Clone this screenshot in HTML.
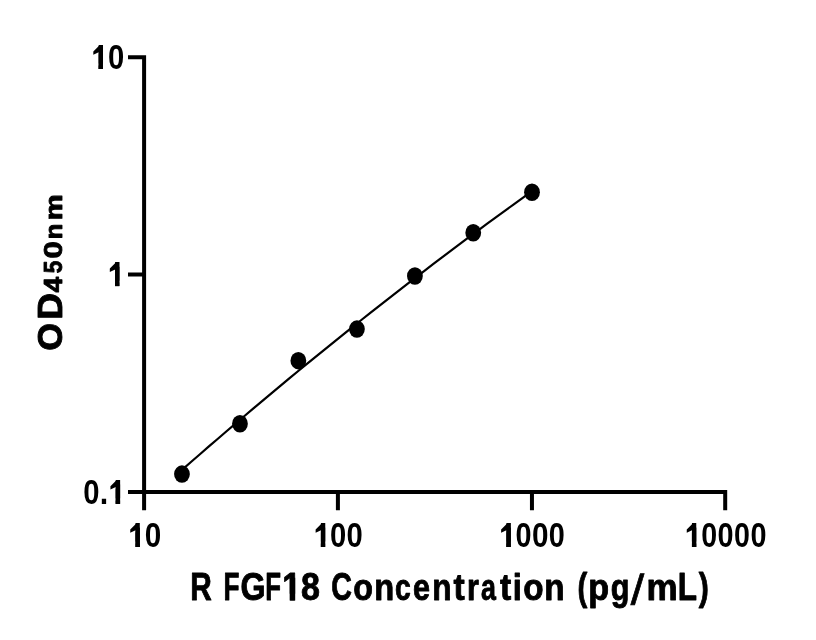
<!DOCTYPE html>
<html><head><meta charset="utf-8"><style>
html,body{margin:0;padding:0;background:#fff;}
body{width:816px;height:640px;overflow:hidden;}
svg{display:block;filter:grayscale(100%);}
text{font-family:"Liberation Sans",sans-serif;font-weight:bold;fill:#000;font-kerning:none;}
</style></head><body>
<svg width="816" height="640" viewBox="0 0 816 640" xmlns="http://www.w3.org/2000/svg">
<rect width="816" height="640" fill="#fff"/>
<g stroke="#000" stroke-width="4" fill="none" stroke-linecap="butt">
<path d="M128,57.15 H144.1 V510.3 M128,274.5 H144.1 M128,491.9 H727.2 M337.9,491.9 V510.3 M531.95,491.9 V510.3 M725.2,491.9 V510.3"/>
</g>
<path d="M182.00,469.89 L190.97,462.04 L199.93,454.23 L208.90,446.45 L217.87,438.72 L226.83,431.02 L235.80,423.35 L244.77,415.73 L253.73,408.14 L262.70,400.59 L271.67,393.08 L280.63,385.60 L289.60,378.16 L298.57,370.76 L307.53,363.40 L316.50,356.07 L325.47,348.78 L334.43,341.53 L343.40,334.31 L352.37,327.13 L361.33,319.99 L370.30,312.89 L379.27,305.82 L388.23,298.80 L397.20,291.80 L406.17,284.85 L415.13,277.93 L424.10,271.05 L433.07,264.21 L442.03,257.41 L451.00,250.64 L459.97,243.91 L468.93,237.22 L477.90,230.56 L486.87,223.94 L495.83,217.36 L504.80,210.82 L513.77,204.31 L522.73,197.84 L531.70,191.41" stroke="#000" stroke-width="2.2" fill="none"/>
<g fill="#000">
<ellipse cx="181.95" cy="474.10" rx="7.9" ry="8.75"/>
<ellipse cx="239.96" cy="423.75" rx="7.9" ry="8.75"/>
<ellipse cx="298.35" cy="360.67" rx="7.9" ry="8.75"/>
<ellipse cx="356.91" cy="329.10" rx="7.9" ry="8.75"/>
<ellipse cx="414.91" cy="276.00" rx="7.9" ry="8.75"/>
<ellipse cx="473.24" cy="232.77" rx="7.9" ry="8.75"/>
<ellipse cx="532.00" cy="192.25" rx="7.9" ry="8.75"/>
</g>
<g>
<text y="69.00" font-size="34.3"><tspan x="91.13" textLength="17.66" lengthAdjust="spacingAndGlyphs">1</tspan><tspan x="108.04" textLength="16.25" lengthAdjust="spacingAndGlyphs">0</tspan></text><g fill="#fff"><rect x="90.54" y="43.90" width="8" height="10.50"/><rect x="91.75" y="63.47" width="6.79" height="6.36"/><rect x="102.90" y="63.47" width="6.20" height="6.36"/></g><g fill="#000"><path d="M99.74,45.40 L99.34,45.40 L93.34,51.40 L93.34,54.80 L99.74,51.70Z"/><rect x="98.54" y="49.57" width="4.36" height="19.43"/></g>
<text y="286.20" font-size="34.3"><tspan x="107.63" textLength="17.66" lengthAdjust="spacingAndGlyphs">1</tspan></text><g fill="#fff"><rect x="107.04" y="261.10" width="8" height="10.50"/><rect x="108.25" y="280.67" width="6.79" height="6.36"/><rect x="119.40" y="280.67" width="6.20" height="6.36"/></g><g fill="#000"><path d="M116.24,262.60 L115.84,262.60 L109.84,268.60 L109.84,272.00 L116.24,268.90Z"/><rect x="115.04" y="266.77" width="4.36" height="19.43"/></g>
<text y="503.80" font-size="34.3"><tspan x="83.24" textLength="16.25" lengthAdjust="spacingAndGlyphs">0</tspan><tspan x="99.63" textLength="8.47" lengthAdjust="spacingAndGlyphs">.</tspan><tspan x="107.96" textLength="18.22" lengthAdjust="spacingAndGlyphs">1</tspan></text><g fill="#fff"><rect x="107.61" y="478.70" width="8" height="10.50"/><rect x="108.60" y="498.27" width="7.01" height="6.36"/><rect x="120.10" y="498.27" width="6.40" height="6.36"/></g><g fill="#000"><path d="M116.81,480.20 L116.41,480.20 L110.41,486.20 L110.41,489.60 L116.81,486.50Z"/><rect x="115.61" y="484.37" width="4.49" height="19.43"/></g>
<text y="547.00" font-size="34.3"><tspan x="127.82" textLength="18.12" lengthAdjust="spacingAndGlyphs">1</tspan><tspan x="144.83" textLength="16.49" lengthAdjust="spacingAndGlyphs">0</tspan></text><g fill="#fff"><rect x="127.43" y="521.90" width="8" height="10.50"/><rect x="128.46" y="541.47" width="6.97" height="6.36"/><rect x="139.90" y="541.47" width="6.37" height="6.36"/></g><g fill="#000"><path d="M136.63,523.40 L136.23,523.40 L130.23,529.40 L130.23,532.80 L136.63,529.70Z"/><rect x="135.43" y="527.57" width="4.47" height="19.43"/></g>
<text y="547.00" font-size="34.3"><tspan x="313.43" textLength="17.66" lengthAdjust="spacingAndGlyphs">1</tspan><tspan x="330.04" textLength="16.25" lengthAdjust="spacingAndGlyphs">0</tspan><tspan x="346.54" textLength="16.25" lengthAdjust="spacingAndGlyphs">0</tspan></text><g fill="#fff"><rect x="312.84" y="521.90" width="8" height="10.50"/><rect x="314.05" y="541.47" width="6.79" height="6.36"/><rect x="325.20" y="541.47" width="6.20" height="6.36"/></g><g fill="#000"><path d="M322.04,523.40 L321.64,523.40 L315.64,529.40 L315.64,532.80 L322.04,529.70Z"/><rect x="320.84" y="527.57" width="4.36" height="19.43"/></g>
<text y="547.00" font-size="34.3"><tspan x="498.66" textLength="18.22" lengthAdjust="spacingAndGlyphs">1</tspan><tspan x="515.56" textLength="16.02" lengthAdjust="spacingAndGlyphs">0</tspan><tspan x="531.93" textLength="16.49" lengthAdjust="spacingAndGlyphs">0</tspan><tspan x="548.66" textLength="16.02" lengthAdjust="spacingAndGlyphs">0</tspan></text><g fill="#fff"><rect x="498.31" y="521.90" width="8" height="10.50"/><rect x="499.30" y="541.47" width="7.01" height="6.36"/><rect x="510.80" y="541.47" width="6.40" height="6.36"/></g><g fill="#000"><path d="M507.51,523.40 L507.11,523.40 L501.11,529.40 L501.11,532.80 L507.51,529.70Z"/><rect x="506.31" y="527.57" width="4.49" height="19.43"/></g>
<text y="547.00" font-size="34.3"><tspan x="684.53" textLength="17.66" lengthAdjust="spacingAndGlyphs">1</tspan><tspan x="701.17" textLength="15.90" lengthAdjust="spacingAndGlyphs">0</tspan><tspan x="717.56" textLength="16.02" lengthAdjust="spacingAndGlyphs">0</tspan><tspan x="734.07" textLength="15.90" lengthAdjust="spacingAndGlyphs">0</tspan><tspan x="750.56" textLength="16.02" lengthAdjust="spacingAndGlyphs">0</tspan></text><g fill="#fff"><rect x="683.94" y="521.90" width="8" height="10.50"/><rect x="685.15" y="541.47" width="6.79" height="6.36"/><rect x="696.30" y="541.47" width="6.20" height="6.36"/></g><g fill="#000"><path d="M693.14,523.40 L692.74,523.40 L686.74,529.40 L686.74,532.80 L693.14,529.70Z"/><rect x="691.94" y="527.57" width="4.36" height="19.43"/></g>
<text y="600.05" font-size="39.4" stroke="#000" stroke-width="0.9" stroke-linejoin="round"><tspan x="190.16" textLength="21.50" lengthAdjust="spacingAndGlyphs">R</tspan><tspan x="211.66"> </tspan><tspan x="223.50" textLength="16.01" lengthAdjust="spacingAndGlyphs">F</tspan><tspan x="240.52" textLength="25.13" lengthAdjust="spacingAndGlyphs">G</tspan><tspan x="265.22" textLength="15.77" lengthAdjust="spacingAndGlyphs">F</tspan><tspan x="282.24" textLength="18.77" lengthAdjust="spacingAndGlyphs">1</tspan><tspan x="301.07" textLength="18.93" lengthAdjust="spacingAndGlyphs">8</tspan><tspan x="320.00"> </tspan><tspan x="331.18" textLength="20.66" lengthAdjust="spacingAndGlyphs">C</tspan><tspan x="353.19" font-size="36.8" textLength="19.72" lengthAdjust="spacingAndGlyphs">o</tspan><tspan x="374.29" font-size="36.8" textLength="19.99" lengthAdjust="spacingAndGlyphs">n</tspan><tspan x="394.94" font-size="36.8" textLength="15.73" lengthAdjust="spacingAndGlyphs">c</tspan><tspan x="412.95" font-size="36.8" textLength="17.04" lengthAdjust="spacingAndGlyphs">e</tspan><tspan x="432.16" font-size="36.8" textLength="19.35" lengthAdjust="spacingAndGlyphs">n</tspan><tspan x="453.44" font-size="36.8" textLength="11.22" lengthAdjust="spacingAndGlyphs">t</tspan><tspan x="467.04" font-size="36.8" textLength="11.87" lengthAdjust="spacingAndGlyphs">r</tspan><tspan x="480.96" font-size="36.8" textLength="14.92" lengthAdjust="spacingAndGlyphs">a</tspan><tspan x="499.94" font-size="36.8" textLength="11.22" lengthAdjust="spacingAndGlyphs">t</tspan><tspan x="512.76" font-size="36.8" textLength="9.11" lengthAdjust="spacingAndGlyphs">i</tspan><tspan x="523.15" font-size="36.8" textLength="20.30" lengthAdjust="spacingAndGlyphs">o</tspan><tspan x="544.25" font-size="36.8" textLength="20.37" lengthAdjust="spacingAndGlyphs">n</tspan><tspan x="564.62"> </tspan><tspan x="577.39" textLength="9.79" lengthAdjust="spacingAndGlyphs">(</tspan><tspan x="588.30" font-size="36.8" textLength="20.85" lengthAdjust="spacingAndGlyphs">p</tspan><tspan x="610.69" font-size="36.8" textLength="18.70" lengthAdjust="spacingAndGlyphs">g</tspan></text><g fill="#fff"><rect x="282.90" y="593.70" width="7.22" height="7.31"/><rect x="294.75" y="593.70" width="6.59" height="7.31"/></g><g fill="#000"><rect x="289.67" y="577.73" width="5.53" height="22.77"/></g>
<text transform="translate(630.6,603.5) matrix(1,0,-0.155,1,0,0) scale(0.85,1.06)" font-size="39.4" stroke="#000" stroke-width="0.9">/</text>
<text y="600.05" font-size="39.4" stroke="#000" stroke-width="0.9" stroke-linejoin="round"><tspan x="646.54" font-size="36.8" textLength="31.19" lengthAdjust="spacingAndGlyphs">m</tspan><tspan x="677.84" textLength="19.28" lengthAdjust="spacingAndGlyphs">L</tspan><tspan x="698.82" textLength="10.03" lengthAdjust="spacingAndGlyphs">)</tspan></text>
</g>
<g transform="rotate(-90)">
<text y="61.55" font-size="35.0" stroke="#000" stroke-width="0.9" stroke-linejoin="round"><tspan x="-350.72" textLength="27.87" lengthAdjust="spacingAndGlyphs">O</tspan><tspan x="-319.73" textLength="26.73" lengthAdjust="spacingAndGlyphs">D</tspan></text>
<text y="61.55" font-size="25.8" stroke="#000" stroke-width="0.9" stroke-linejoin="round"><tspan x="-292.47" textLength="15.57" lengthAdjust="spacingAndGlyphs">4</tspan><tspan x="-273.34" textLength="12.52" lengthAdjust="spacingAndGlyphs">5</tspan><tspan x="-258.48" textLength="17.31" lengthAdjust="spacingAndGlyphs">0</tspan><tspan x="-239.24" font-size="23.8" textLength="15.68" lengthAdjust="spacingAndGlyphs">n</tspan><tspan x="-220.37" font-size="23.8" textLength="25.93" lengthAdjust="spacingAndGlyphs">m</tspan></text>
</g>
</svg>
</body></html>
